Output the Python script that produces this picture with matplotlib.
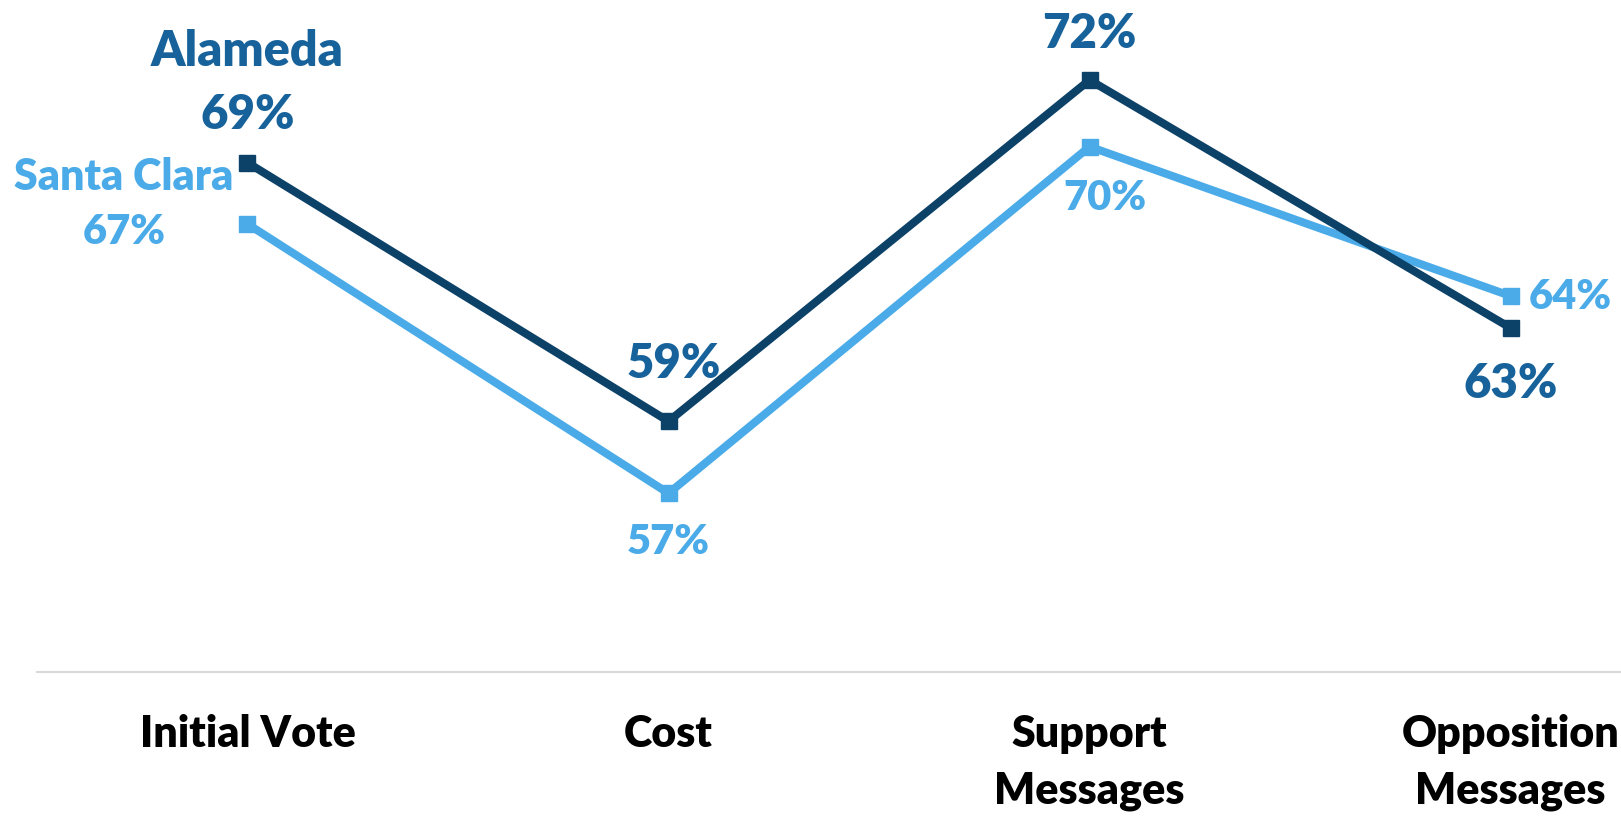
import matplotlib.pyplot as plt

plt.rcParams['font.family'] = ['Lato', 'DejaVu Sans']
plt.rcParams['font.weight'] = 'heavy'

categories = ['Initial Vote', 'Cost', 'Support\nMessages', 'Opposition\nMessages']
alameda = [69.1, 59.4, 72.2, 62.9]
santa_clara = [66.8, 56.7, 69.7, 64.1]
alameda_labels = ['69%', '59%', '72%', '63%']
santa_clara_labels = ['67%', '57%', '70%', '64%']

# label offsets in points (dx, dy)
alameda_offsets = [(0, 34), (4, 41), (0, 33), (0, -40)]
santa_offsets = [(-89, -6), (0, -35), (11, -37), (43, -1)]

dark_line = '#0c4168'
dark_text = '#17629a'
light = '#4aabe8'

fig = plt.figure(figsize=(16.21, 8.16), dpi=100)
ax = fig.add_axes([0.0228, 0.1765, 1.039, 0.8235])

x = list(range(len(categories)))
ax.plot(x, alameda, color=dark_line, lw=5.8, marker='s', markersize=11, zorder=3)
ax.plot(x, santa_clara, color=light, lw=5.8, marker='s', markersize=11, zorder=2)

for i in x:
    ax.annotate(alameda_labels[i], (i, alameda[i]), xytext=alameda_offsets[i],
                textcoords='offset points', ha='center', va='center',
                fontsize=34, color=dark_text, fontweight='heavy')
    ax.annotate(santa_clara_labels[i], (i, santa_clara[i]), xytext=santa_offsets[i],
                textcoords='offset points', ha='center', va='center',
                fontsize=30, color=light, fontweight='heavy')

ax.annotate('Alameda', (0, alameda[0]), xytext=(0, 80), textcoords='offset points',
            ha='center', va='center', fontsize=35, color=dark_text, fontweight='heavy')
ax.annotate('Santa Clara', (0, santa_clara[0]), xytext=(-89, 34), textcoords='offset points',
            ha='center', va='center', fontsize=31, color=light, fontweight='heavy')

ax.set_xlim(-0.5, 3.5)
ax.set_ylim(50, 75.2)
ax.set_xticks(x)
ax.set_xticklabels(categories, fontsize=31, fontweight='heavy', linespacing=1.5)
ax.tick_params(axis='x', length=0, pad=30)
ax.set_yticks([])
for side in ['top', 'right', 'left']:
    ax.spines[side].set_visible(False)
ax.spines['bottom'].set_color('#d9d9d9')
ax.spines['bottom'].set_linewidth(1.5)

fig.savefig('out.png', dpi=100)
